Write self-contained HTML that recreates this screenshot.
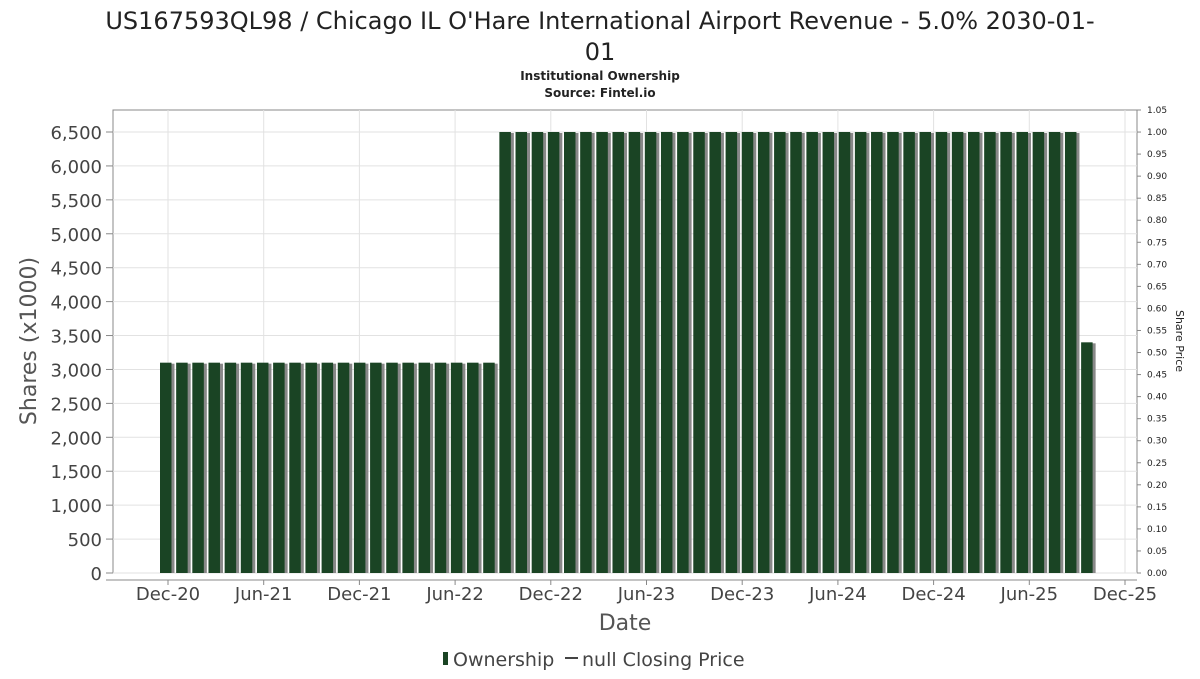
<!DOCTYPE html>
<html><head><meta charset="utf-8"><style>
body{margin:0;background:#fff;font-family:"DejaVu Sans","Liberation Sans",sans-serif}
svg text{font-family:"DejaVu Sans","Liberation Sans",sans-serif}
</style></head><body>
<svg id="c" width="1200" height="675" xmlns="http://www.w3.org/2000/svg">
<text x="600" y="29" text-anchor="middle" font-size="24" fill="#222">US167593QL98 / Chicago IL O'Hare International Airport Revenue - 5.0% 2030-01-</text>
<text x="600" y="60" text-anchor="middle" font-size="24" fill="#222">01</text>
<text x="600" y="80" text-anchor="middle" font-size="12" font-weight="bold" fill="#222">Institutional Ownership</text>
<text x="600" y="97" text-anchor="middle" font-size="12" font-weight="bold" fill="#222">Source: Fintel.io</text>
<rect x="113" y="110" width="1024" height="463" fill="#fff" stroke="#888"/>
<g id="grid"></g><g id="bars"></g><g id="axes"></g>
<text transform="translate(36,341) rotate(-90)" text-anchor="middle" font-size="22" fill="#555">Shares (x1000)</text>
<text transform="translate(1176,341) rotate(90)" text-anchor="middle" font-size="11" fill="#222">Share Price</text>
<text x="625" y="630" text-anchor="middle" font-size="22" fill="#555">Date</text>
<g>
<rect x="443" y="652" width="5" height="13" fill="#1a4424"/>
<text x="453" y="666" font-size="19" fill="#444">Ownership</text>
<line x1="565" y1="658" x2="578" y2="658" stroke="#444" stroke-width="2"/>
<text x="582" y="666" font-size="19" fill="#444">null Closing Price</text>
</g>
</svg>
<script>
const values=[3100,3100,3100,3100,3100,3100,3100,3100,3100,3100,3100,3100,3100,3100,3100,3100,3100,3100,3100,3100,3100,
6500,6500,6500,6500,6500,6500,6500,6500,6500,6500,6500,6500,6500,6500,6500,6500,6500,6500,6500,6500,6500,6500,6500,6500,6500,6500,6500,6500,6500,6500,6500,6500,6500,6500,6500,6500,
3400];
const yTicks=[0,500,1000,1500,2000,2500,3000,3500,4000,4500,5000,5500,6000,6500];
const rTicks=[0,0.05,0.1,0.15,0.2,0.25,0.3,0.35,0.4,0.45,0.5,0.55,0.6,0.65,0.7,0.75,0.8,0.85,0.9,0.95,1.0,1.05];
const xLabels=["Dec-20","Jun-21","Dec-21","Jun-22","Dec-22","Jun-23","Dec-23","Jun-24","Dec-24","Jun-25","Dec-25"];
const NS="http://www.w3.org/2000/svg";
const y=v=>573-v*(441/6500);
const yr=v=>573-v*(463/1.05);
const xb=i=>160+i*16.16;
const xl=i=>168+i*95.7;
function mk(p,t,a){const e=document.createElementNS(NS,t);for(const k in a)e.setAttribute(k,a[k]);document.getElementById(p).appendChild(e);return e;}
yTicks.forEach(v=>{
 const g=mk('grid','line',{x1:113,x2:1137,y1:y(v),y2:y(v),stroke:'#e2e2e2'});
 
 
 const t=mk('axes','text',{x:102,y:y(v)+7,'text-anchor':'end','font-size':18,fill:'#444'});
 t.textContent=v.toLocaleString('en-US');
 
 
 mk('axes','line',{x1:106,x2:113,y1:y(v),y2:y(v),stroke:'#888'});
});
xLabels.forEach((s,i)=>{
 const g=mk('grid','line',{x1:xl(i),x2:xl(i),y1:110,y2:573,stroke:'#e2e2e2'});
 
 
 mk('axes','line',{x1:xl(i),x2:xl(i),y1:580,y2:585,stroke:'#888'});
 const t=mk('axes','text',{x:xl(i),y:600,'text-anchor':'middle','font-size':18,fill:'#444'});
 t.textContent=s;
 
 
});
mk('axes','line',{x1:106,x2:1137,y1:580,y2:580,stroke:'#888'});
rTicks.forEach(v=>{
 mk('axes','line',{x1:1137,x2:1141,y1:yr(v),y2:yr(v),stroke:'#888'});
 const t=mk('axes','text',{x:1147,y:yr(v)+3,'font-size':9,fill:'#222'});
 t.textContent=v.toFixed(2);
 
 
});
values.forEach((v,i)=>{
 const s=mk('bars','rect',{x:xb(i)+3,y:y(v)+1,width:11.5,height:573-y(v)-1,fill:'#888'});
 
 
 const b=mk('bars','rect',{x:xb(i),y:y(v),width:11.5,height:573-y(v),fill:'#1a4424'});
 
 
});
</script>
</body></html>
